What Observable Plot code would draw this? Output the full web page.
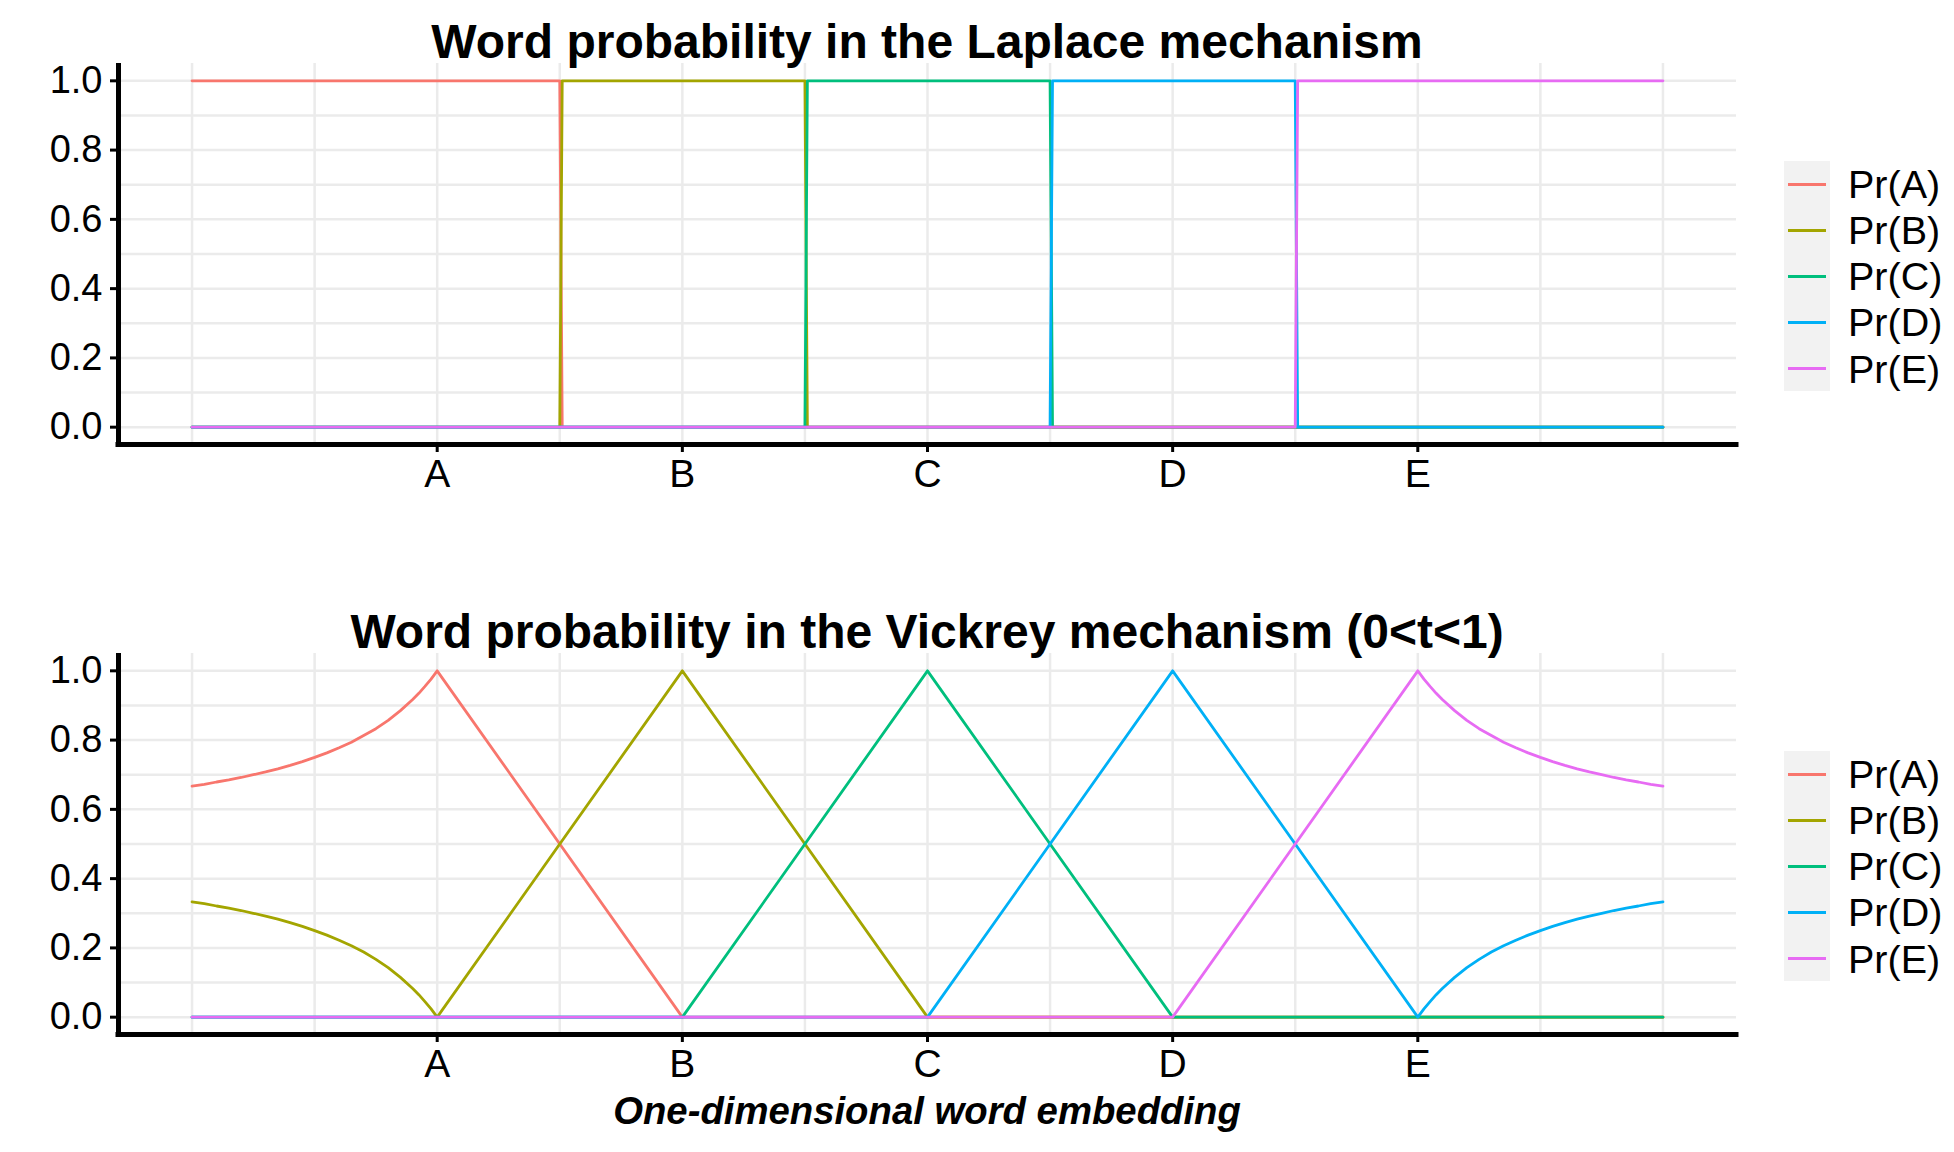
<!DOCTYPE html>
<html><head><meta charset="utf-8">
<script src="https://cdn.jsdelivr.net/npm/d3@7"></script>
<script src="https://cdn.jsdelivr.net/npm/@observablehq/plot@0.6"></script>
<style>
body{margin:0;background:#fff;}
#root{position:relative;width:1954px;height:1152px;font-family:"Liberation Sans",Arial,Helvetica,sans-serif;color:#000;overflow:hidden;background:#fff}
.abs{position:absolute;line-height:1;white-space:nowrap}
.title{font-weight:bold;font-size:48px;transform:translateX(-50%)}
.xtitle{font-weight:bold;font-style:italic;font-size:38.3px;transform:translateX(-50%)}
.legbox{background:#f2f2f2}
.legtext{font-size:39.5px}
svg{position:absolute;left:0}
</style></head><body><div id="root"></div>
<script>
// ---- data ----
const words = ["A", "B", "C", "D", "E"];
const wordPos = [1, 2, 3, 4, 5];
const seriesNames = ["Pr(A)", "Pr(B)", "Pr(C)", "Pr(D)", "Pr(E)"];
const colors = ["#F8766D", "#A3A500", "#00BF7D", "#00B0F6", "#E76BF3"];
const yTicks = [0, 0.2, 0.4, 0.6, 0.8, 1.0];
const yGrid = [0, 0.1, 0.2, 0.3, 0.4, 0.5, 0.6, 0.7, 0.8, 0.9, 1.0];
const xGrid = [0, 0.5, 1, 1.5, 2, 2.5, 3, 3.5, 4, 4.5, 5, 5.5, 6];
const xDomain = [-0.3, 6.3];
const yDomain = [-0.05, 1.05];

// Laplace mechanism (step functions)
const laplaceX = [0, 1.5, 1.51, 2.5, 2.51, 3.5, 3.51, 4.5, 4.51, 6];
const laplaceA = [1, 1, 0, 0, 0, 0, 0, 0, 0, 0];
const laplaceB = [0, 0, 1, 1, 0, 0, 0, 0, 0, 0];
const laplaceC = [0, 0, 0, 0, 1, 1, 0, 0, 0, 0];
const laplaceD = [0, 0, 0, 0, 0, 0, 1, 1, 0, 0];
const laplaceE = [0, 0, 0, 0, 0, 0, 0, 0, 1, 1];

// Vickrey mechanism (0<t<1)
const vickreyX = [0, 0.05, 0.1, 0.15, 0.2, 0.25, 0.3, 0.35, 0.4, 0.45, 0.5, 0.55, 0.6, 0.65, 0.7, 0.75, 0.8, 0.85, 0.9, 0.925, 0.95, 0.975, 1,
                  2, 3, 4,
                  5, 5.025, 5.05, 5.075, 5.1, 5.15, 5.2, 5.25, 5.3, 5.35, 5.4, 5.45, 5.5, 5.55, 5.6, 5.65, 5.7, 5.75, 5.8, 5.85, 5.9, 5.95, 6];
const vickreyA = [0.667, 0.672, 0.679, 0.685, 0.692, 0.700, 0.708, 0.717, 0.727, 0.738, 0.750, 0.763, 0.778, 0.794, 0.813, 0.833, 0.857, 0.885, 0.917, 0.935, 0.955, 0.976, 1,
                  0, 0, 0,
                  0, 0, 0, 0, 0, 0, 0, 0, 0, 0, 0, 0, 0, 0, 0, 0, 0, 0, 0, 0, 0, 0, 0];
const vickreyB = [0.333, 0.328, 0.321, 0.315, 0.308, 0.300, 0.292, 0.283, 0.273, 0.262, 0.250, 0.237, 0.222, 0.206, 0.188, 0.167, 0.143, 0.115, 0.083, 0.065, 0.045, 0.024, 0,
                  1, 0, 0,
                  0, 0, 0, 0, 0, 0, 0, 0, 0, 0, 0, 0, 0, 0, 0, 0, 0, 0, 0, 0, 0, 0, 0];
const vickreyC = [0, 0, 0, 0, 0, 0, 0, 0, 0, 0, 0, 0, 0, 0, 0, 0, 0, 0, 0, 0, 0, 0, 0,
                  0, 1, 0,
                  0, 0, 0, 0, 0, 0, 0, 0, 0, 0, 0, 0, 0, 0, 0, 0, 0, 0, 0, 0, 0, 0, 0];
const vickreyD = [0, 0, 0, 0, 0, 0, 0, 0, 0, 0, 0, 0, 0, 0, 0, 0, 0, 0, 0, 0, 0, 0, 0,
                  0, 0, 1,
                  0, 0.024, 0.045, 0.065, 0.083, 0.115, 0.143, 0.167, 0.188, 0.206, 0.222, 0.237, 0.250, 0.262, 0.273, 0.283, 0.292, 0.300, 0.308, 0.315, 0.321, 0.328, 0.333];
const vickreyE = [0, 0, 0, 0, 0, 0, 0, 0, 0, 0, 0, 0, 0, 0, 0, 0, 0, 0, 0, 0, 0, 0, 0,
                  0, 0, 0,
                  1, 0.976, 0.955, 0.935, 0.917, 0.885, 0.857, 0.833, 0.813, 0.794, 0.778, 0.763, 0.750, 0.738, 0.727, 0.717, 0.708, 0.700, 0.692, 0.685, 0.679, 0.672, 0.667];

const titles = ["Word probability in the Laplace mechanism",
                "Word probability in the Vickrey mechanism (0<t<1)"];
const xAxisTitle = "One-dimensional word embedding";

// ---- drawing ----
const root = document.getElementById("root");
const W = 1954, H = 500, ML = 118, MR = 218, MT = 63, MB = 56;

function panel(xs, seriesY) {
  const marks = [
    Plot.gridX(xGrid, {stroke: "#ebebeb", strokeOpacity: 1, strokeWidth: 2.5}),
    Plot.gridY(yGrid, {stroke: "#ebebeb", strokeOpacity: 1, strokeWidth: 2.5}),
    ...seriesY.map((ys, i) => Plot.line(xs.map((x, j) => ({x, y: ys[j]})),
        {x: "x", y: "y", stroke: colors[i], strokeWidth: 2.8})),
    Plot.axisY(yTicks, {tickSize: 8, tickPadding: 8, strokeWidth: 3, fontSize: 38,
        tickFormat: d => d.toFixed(1), label: null, fill: "#000"}),
    Plot.axisX(wordPos, {tickSize: 8, tickPadding: 7, strokeWidth: 3, fontSize: 39,
        tickFormat: d => words[wordPos.indexOf(d)], label: null, fill: "#000"}),
    Plot.ruleX([xDomain[0]], {stroke: "#000", strokeWidth: 5}),
    Plot.ruleY([yDomain[0]], {stroke: "#000", strokeWidth: 5, strokeLinecap: "square"})
  ];
  return Plot.plot({
    width: W, height: H, marginLeft: ML, marginRight: MR, marginTop: MT, marginBottom: MB,
    x: {domain: xDomain, label: null},
    y: {domain: yDomain, label: null},
    style: {fontFamily: '"Liberation Sans", Arial, Helvetica, sans-serif', color: "#000", background: "transparent", overflow: "visible"},
    marks
  });
}

const offsets = [0, 590];
const data = [
  [laplaceX, [laplaceA, laplaceB, laplaceC, laplaceD, laplaceE]],
  [vickreyX, [vickreyA, vickreyB, vickreyC, vickreyD, vickreyE]]
];
const cx = (ML + (W - MR)) / 2;

data.forEach(([xs, ys], p) => {
  const off = offsets[p];
  const svg = panel(xs, ys);
  svg.style.top = off + "px";
  root.appendChild(svg);

  const t = document.createElement("div");
  t.className = "abs title";
  t.textContent = titles[p];
  t.style.left = cx + "px";
  t.style.top = (off + 17.5) + "px";
  root.appendChild(t);

  // legend
  const entryY0 = off + 184, step = 46.2;
  const box = document.createElement("div");
  box.className = "abs legbox";
  box.style.left = "1784px"; box.style.width = "46px";
  box.style.top = (off + 161) + "px"; box.style.height = "230px";
  root.appendChild(box);
  seriesNames.forEach((name, i) => {
    const y = entryY0 + i * step;
    const ln = document.createElement("div");
    ln.className = "abs";
    ln.style.left = "1788px"; ln.style.width = "38px";
    ln.style.top = (y - 1.5) + "px"; ln.style.height = "3px";
    ln.style.background = colors[i];
    root.appendChild(ln);
    const tx = document.createElement("div");
    tx.className = "abs legtext";
    tx.textContent = name;
    tx.style.left = "1848px";
    tx.style.top = (y - 19.3) + "px";
    root.appendChild(tx);
  });
});

const xt = document.createElement("div");
xt.className = "abs xtitle";
xt.textContent = xAxisTitle;
xt.style.left = cx + "px";
xt.style.top = "1092px";
root.appendChild(xt);
</script>
</body></html>
